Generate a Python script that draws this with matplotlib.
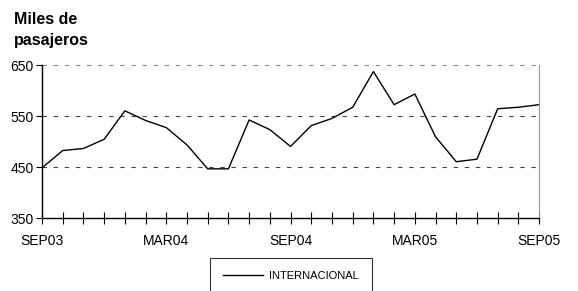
import matplotlib.pyplot as plt
import numpy as np

months = ['SEP03', 'OCT03', 'NOV03', 'DIC03', 'ENE04', 'FEB04', 'MAR04', 'ABR04',
          'MAY04', 'JUN04', 'JUL04', 'AGO04', 'SEP04', 'OCT04', 'NOV04', 'DIC04',
          'ENE05', 'FEB05', 'MAR05', 'ABR05', 'MAY05', 'JUN05', 'JUL05', 'AGO05', 'SEP05']
internacional = [449, 483, 487, 505, 561, 542, 528, 494, 447, 447, 543, 524, 491,
                 532, 546, 568, 638, 573, 594, 510, 461, 466, 565, 568, 573]
yticks = [350, 450, 550, 650]

narrow = ['Liberation Sans Narrow', 'Liberation Sans', 'DejaVu Sans']

fig = plt.figure(figsize=(5.78, 2.91), dpi=100)
ax = fig.add_axes([0.0727, 0.25, 0.86, 0.525])

x = np.arange(len(months))
ax.plot(x, internacional, color='black', lw=1.0, label='INTERNACIONAL')

ax.set_xlim(0, len(months) - 1)
ax.set_ylim(350, 650)

# dashed reference lines, the top one lighter like the plot frame
for v in yticks[1:]:
    c = '#888888' if v == 650 else '#444444'
    ax.axhline(v, color=c, lw=0.8, ls=(0, (4, 6)), zorder=0, clip_on=False)

ax.spines['top'].set_visible(False)
ax.spines['right'].set_color('#999999')
ax.spines['right'].set_linewidth(0.8)
ax.spines['left'].set_linewidth(1.0)
ax.spines['bottom'].set_linewidth(1.0)

ax.set_xticks(x)
ax.set_xticklabels([m if i % 6 == 0 else '' for i, m in enumerate(months)],
                   family=narrow, fontsize=10)
ax.tick_params(axis='x', direction='inout', length=8, width=0.8, pad=7)
ax.set_yticks(yticks)
ax.set_yticklabels([str(v) for v in yticks], family=narrow, fontsize=10)
ax.tick_params(axis='y', direction='out', length=4, width=0.8, pad=2)

fig.text(0.024, 0.96, 'Miles de\npasajeros', fontsize=11.5, fontweight='bold',
         family=['Liberation Sans', 'DejaVu Sans'], va='top', linespacing=1.5)

# legend box runs off the bottom edge of the figure
leg = fig.legend(loc='upper left', bbox_to_anchor=(0.363, 0.115), frameon=True,
                 fancybox=False, edgecolor='black', handlelength=3.6,
                 handletextpad=0.5, prop={'family': narrow, 'size': 8},
                 borderpad=1.2, borderaxespad=0)
leg.get_frame().set_linewidth(0.8)

fig.savefig('out.png', dpi=100)
